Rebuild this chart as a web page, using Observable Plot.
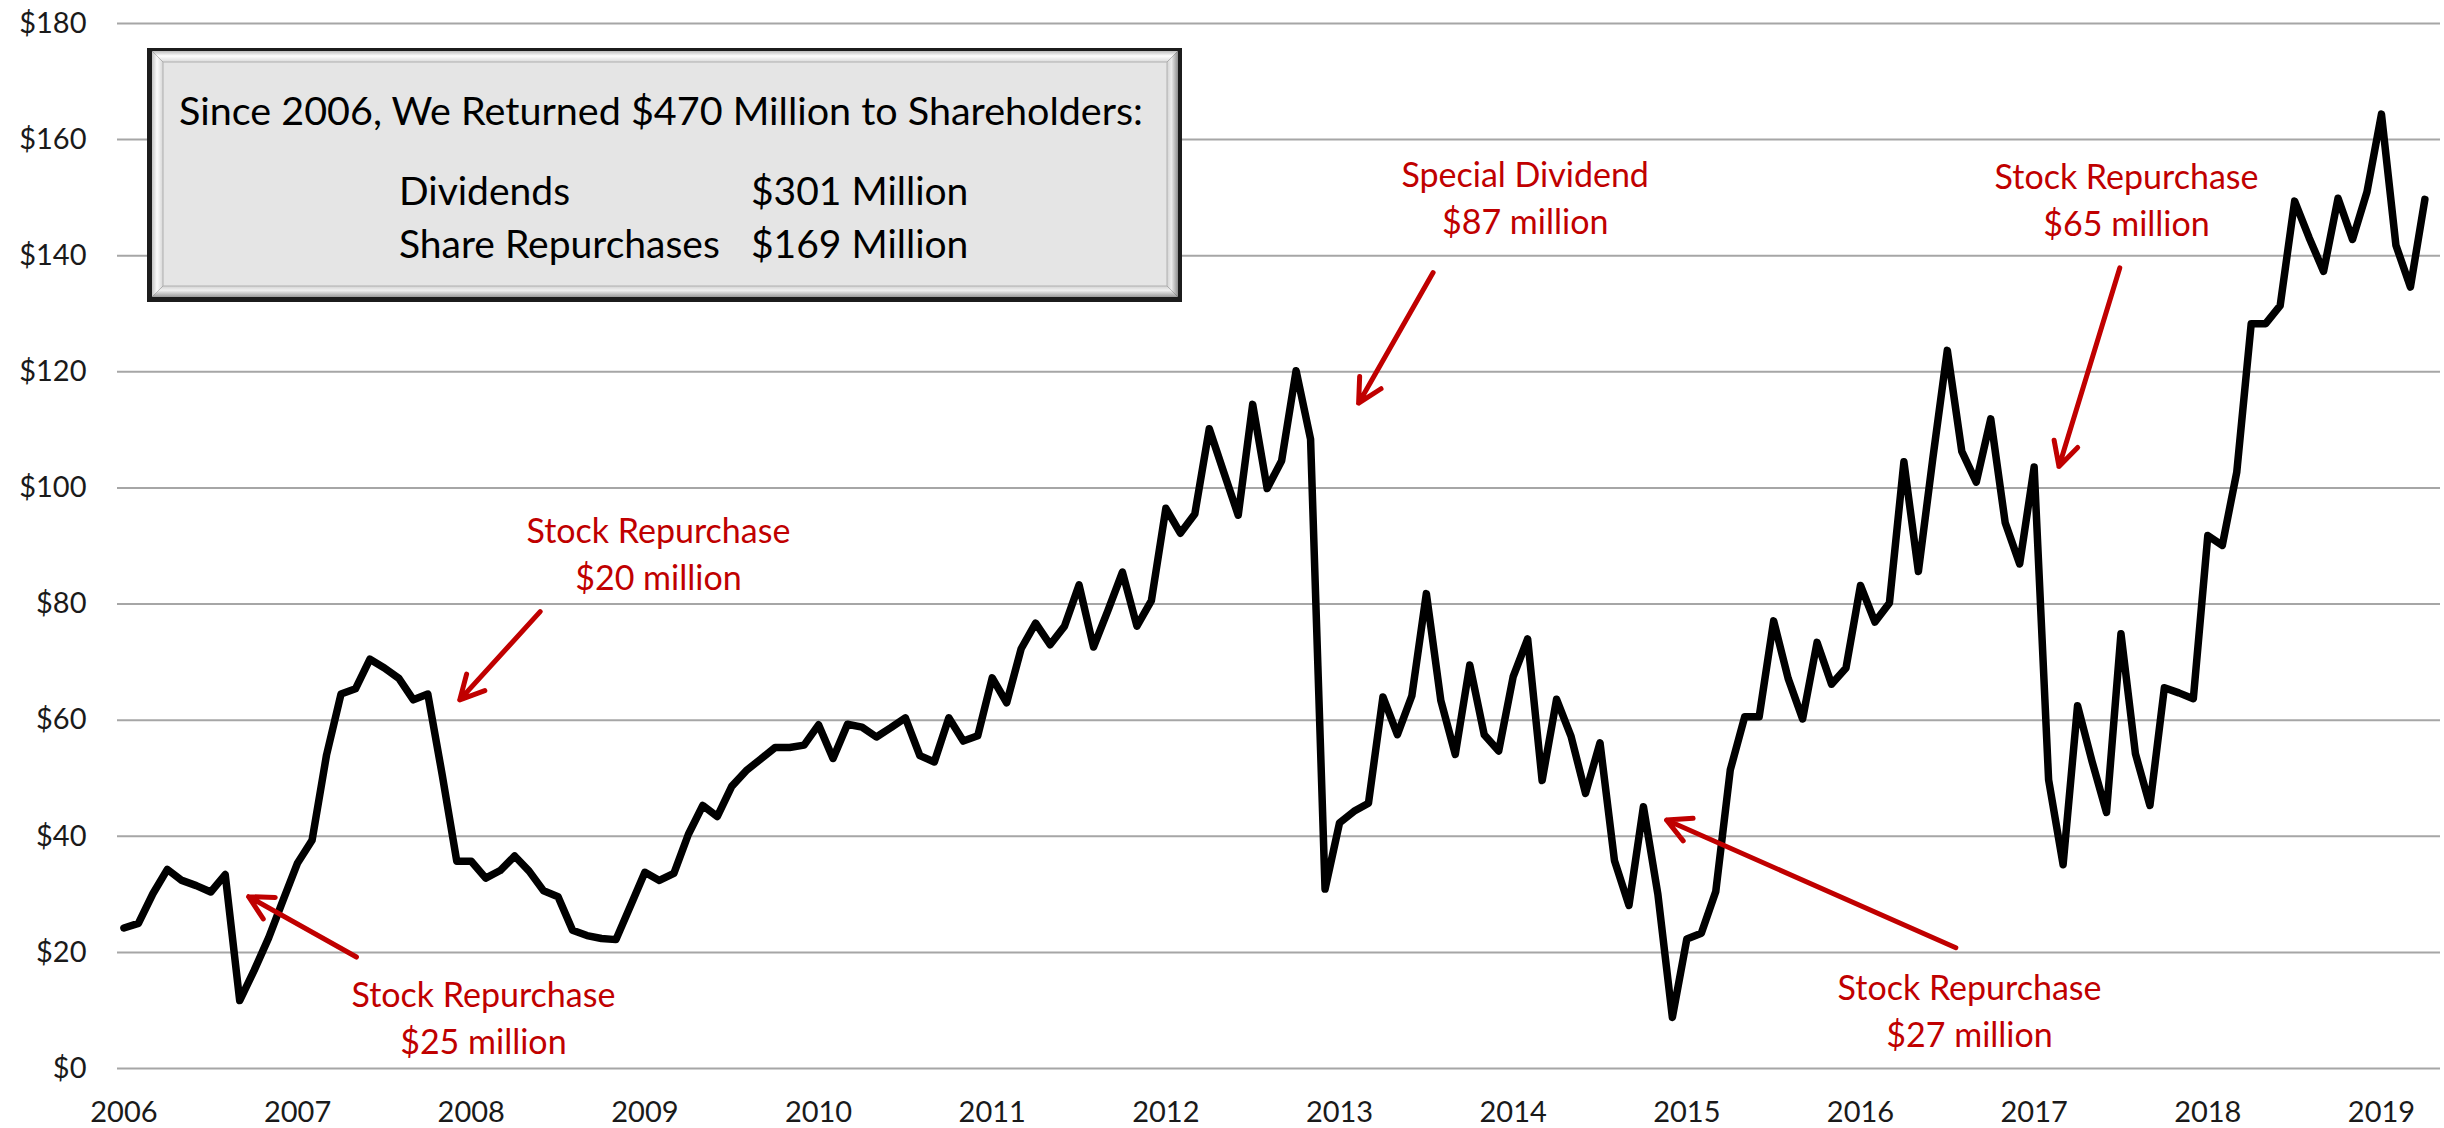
<!DOCTYPE html>
<html>
<head>
<meta charset="utf-8">
<script src="https://cdn.jsdelivr.net/npm/d3@7"></script>
<script src="https://cdn.jsdelivr.net/npm/@observablehq/plot@0.6"></script>
<style>
  html, body { margin: 0; padding: 0; background: #ffffff; }
  #chart { position: relative; width: 2444px; height: 1128px; }
</style>
</head>
<body>
<div id="chart"></div>
<script>
// ---- data (monthly share price, Jan 2006 .. Apr 2019) ----
const startYear = 2006;
const price = [
  24.2, 25.0, 30.1, 34.3, 32.4, 31.5, 30.4, 33.4, 11.7, 16.9, 22.5, 29.0,   // 2006
  35.4, 39.3, 54.0, 64.5, 65.4, 70.5, 69.0, 67.2, 63.5, 64.5, 50.5, 35.7,   // 2007
  35.7, 32.8, 34.1, 36.6, 34.0, 30.6, 29.6, 23.8, 22.9, 22.4, 22.2, 28.0,   // 2008
  33.8, 32.4, 33.6, 40.3, 45.3, 43.4, 48.6, 51.3, 53.3, 55.3, 55.3, 55.7,   // 2009
  59.2, 53.4, 59.3, 58.8, 57.1, 58.7, 60.4, 53.9, 52.8, 60.4, 56.4, 57.3,   // 2010
  67.3, 63.0, 72.3, 76.7, 73.0, 76.2, 83.3, 72.6, 78.9, 85.5, 76.2, 80.6,   // 2011
  96.5, 92.2, 95.5, 110.2, 102.7, 95.3, 114.4, 99.9, 104.7, 120.2, 108.4, 30.9, // 2012
  42.3, 44.3, 45.7, 64.0, 57.5, 64.2, 81.8, 63.4, 54.1, 69.5, 57.5, 54.7,   // 2013
  67.5, 74.0, 49.6, 63.6, 57.2, 47.4, 56.1, 35.8, 28.1, 45.1, 30.0, 8.8,    // 2014
  22.3, 23.3, 30.5, 51.4, 60.6, 60.6, 77.1, 67.2, 60.2, 73.4, 66.2, 69.0,   // 2015
  83.2, 76.9, 80.2, 104.5, 85.6, 105.1, 123.7, 106.3, 101.0, 111.9, 94.0, 86.9, // 2016
  103.6, 49.7, 35.1, 62.5, 52.9, 44.1, 74.9, 54.2, 45.3, 65.6, 64.7, 63.7,  // 2017
  91.8, 90.1, 102.7, 128.3, 128.3, 131.4, 149.4, 143.1, 137.3, 149.9, 142.8, 151.0, // 2018
  164.4, 141.8, 134.6, 149.7                                                 // 2019
];
const yearTicks = [2006, 2007, 2008, 2009, 2010, 2011, 2012, 2013, 2014, 2015, 2016, 2017, 2018, 2019];
const valueTicks = [0, 20, 40, 60, 80, 100, 120, 140, 160, 180];

const noteLabels = [
  "Stock Repurchase\n$20 million",
  "Stock Repurchase\n$25 million",
  "Special Dividend\n$87 million",
  "Stock Repurchase\n$65 million",
  "Stock Repurchase\n$27 million"
];
const boxTitle = "Since 2006, We Returned $470 Million to Shareholders:";
const boxItems = ["Dividends", "Share Repurchases"];
const boxAmounts = ["$301 Million", "$169 Million"];

// ---- annotation anchors (data space) ----
const notePos = [
  {x: 2009.078, y: 89.1},
  {x: 2008.070, y: 9.1},
  {x: 2014.069, y: 150.4},
  {x: 2017.532, y: 150.1},
  {x: 2016.628, y: 10.3}
];
const arrowPos = [
  {x1: 2008.397, y1: 78.7, x2: 2007.934, y2: 63.5},
  {x1: 2007.339, y1: 19.2, x2: 2006.718, y2: 29.6},
  {x1: 2013.539, y1: 137.1, x2: 2013.110, y2: 114.6},
  {x1: 2017.493, y1: 137.9, x2: 2017.143, y2: 103.7},
  {x1: 2016.549, y1: 20.8, x2: 2014.883, y2: 42.8}
];

// ---- build tables ----
const series = price.map((v, i) => ({date: startYear + i / 12, price: v}));
const notes = noteLabels.map((t, i) => ({text: t, ...notePos[i]}));

const RED = "#c00000";
const FONT = "Lato, 'Liberation Sans', sans-serif";

const plot = Plot.plot({
  width: 2444,
  height: 1128,
  marginTop: 23,
  marginBottom: 60,
  marginLeft: 117,
  marginRight: 4,
  style: {fontFamily: FONT, fontSize: "29px", color: "#1a1a1a", background: "#ffffff", overflow: "visible"},
  x: {
    domain: [2005.963, 2019.34],
    ticks: yearTicks,
    tickFormat: d => String(d),
    tickSize: 0,
    tickPadding: 33,
    label: null
  },
  y: {
    domain: [0, 180],
    ticks: valueTicks,
    tickFormat: d => "$" + d,
    tickSize: 0,
    tickPadding: 31,
    label: null
  },
  marks: [
    Plot.ruleY(valueTicks, {stroke: "#a6a6a6", strokeWidth: 2}),
    Plot.line(series, {x: "date", y: "price", stroke: "#000000", strokeWidth: 7.5,
      strokeLinejoin: "round", strokeLinecap: "round"}),
    Plot.arrow(arrowPos, {x1: "x1", y1: "y1", x2: "x2", y2: "y2", stroke: RED,
      strokeWidth: 5, headAngle: 55, headLength: 8}),
    Plot.text(notes, {x: "x", y: "y", text: "text", fill: RED, fontSize: 34,
      lineHeight: 1.38, textAnchor: "middle", fontFamily: FONT})
  ]
});

document.getElementById("chart").appendChild(plot);

// ---- summary box (decorative bevelled panel) ----
const svg = d3.select(plot);
const defs = svg.append("defs");
function grad(id, x2, y2, stops) {
  const g = defs.append("linearGradient").attr("id", id)
    .attr("x1", 0).attr("y1", 0).attr("x2", x2).attr("y2", y2);
  stops.forEach(([o, c]) => g.append("stop").attr("offset", o).attr("stop-color", c));
}
grad("bvTop", 0, 1, [[0, "#bdbdbd"], [0.45, "#ffffff"], [1, "#d9d9d9"]]);
grad("bvLeft", 1, 0, [[0, "#c4c4c4"], [0.45, "#fbfbfb"], [1, "#d6d6d6"]]);
grad("bvBottom", 0, 1, [[0, "#d2d2d2"], [0.4, "#f0f0f0"], [1, "#9a9a9a"]]);
grad("bvRight", 1, 0, [[0, "#d2d2d2"], [0.4, "#ececec"], [1, "#8e8e8e"]]);

const X0 = 147, Y0 = 48, W = 1035, H = 254;
const box = svg.append("g").attr("text-anchor", "start");
box.append("rect").attr("x", X0).attr("y", Y0).attr("width", W).attr("height", H).attr("fill", "#1c1c1c");
const bx = X0 + 5, by = Y0 + 3, bw = W - 9, bh = H - 8, t = 11;
const poly = (pts, fill) => box.append("polygon").attr("points", pts.map(p => p.join(",")).join(" ")).attr("fill", fill);
poly([[bx, by], [bx + bw, by], [bx + bw - t, by + t], [bx + t, by + t]], "url(#bvTop)");
poly([[bx, by + bh], [bx + bw, by + bh], [bx + bw - t, by + bh - t], [bx + t, by + bh - t]], "url(#bvBottom)");
poly([[bx, by], [bx + t, by + t], [bx + t, by + bh - t], [bx, by + bh]], "url(#bvLeft)");
poly([[bx + bw, by], [bx + bw - t, by + t], [bx + bw - t, by + bh - t], [bx + bw, by + bh]], "url(#bvRight)");
box.append("rect").attr("x", bx + t).attr("y", by + t).attr("width", bw - 2 * t).attr("height", bh - 2 * t)
  .attr("fill", "#e5e5e5").attr("stroke", "#b0b0b0").attr("stroke-width", 1);

const txt = (s, x, y, size) => box.append("text").attr("x", x).attr("y", y).text(s)
  .attr("text-anchor", "start")
  .attr("font-family", FONT).attr("font-size", size).attr("fill", "#000000");
txt(boxTitle, 179, 125, 39.5);
boxItems.forEach((s, i) => txt(s, 399, 205 + i * 53, 39));
boxAmounts.forEach((s, i) => txt(s, 751, 205 + i * 53, 39));
</script>
</body>
</html>
